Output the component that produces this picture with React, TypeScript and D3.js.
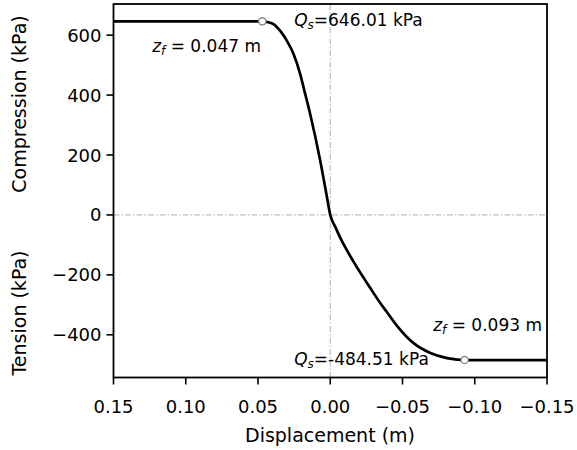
import React from "react";
import * as d3 from "d3";

const plateauComp = 646.01;
const plateauTens = -484.51;
const zfComp = 0.047;
const zfTens = -0.093;

const dispValues = [0.15, 0.047, 0.043, 0.0393, 0.0346, 0.03, 0.0254, 0.0208, 0.0173, 0.0139, 0.0069, 0.0023, 0,
  -0.0035, -0.0069, -0.0161, -0.0277, -0.0346, -0.0393, -0.0462, -0.0577, -0.0693, -0.0808, -0.0877, -0.093, -0.15];
const forceValues = [646.01, 646.01, 643, 637, 614, 581, 537, 470, 403, 337, 180, 60, 0,
  -40, -76, -156, -244, -294, -325, -370, -428, -461, -478, -483, -484.51, -484.51];

const xTicks = [0.15, 0.1, 0.05, 0, -0.05, -0.1, -0.15];
const yTicks = [600, 400, 200, 0, -200, -400];

const W = 577, H = 450;
const L = 113.5, R = 547, T = 4, B = 377.5;
const FONT = "DejaVu Sans, sans-serif";

const fmtX = (v: number) => (v < 0 ? "\u2212" : "") + Math.abs(v).toFixed(2);
const fmtY = (v: number) => (v < 0 ? "\u2212" : "") + Math.abs(v).toFixed(0);

export default function App() {
  const x = d3.scaleLinear().domain([0.15, -0.15]).range([L, R]);
  const y = d3.scaleLinear().domain([-542.6, 704]).range([B, T]);
  const pts: [number, number][] = dispValues.map((d, i) => [d, forceValues[i]]);
  const line = d3.line<[number, number]>()
    .x((d) => x(d[0]))
    .y((d) => y(d[1]))
    .curve(d3.curveMonotoneX);

  const grid = "#a8a8a8";
  return (
    <svg width={W} height={H} style={{ position: "absolute", left: 0, top: 0, background: "#fff" }} fontFamily={FONT}>
      <rect x={0} y={0} width={W} height={H} fill="#fff" />
      {/* reference lines */}
      <line x1={x(0)} x2={x(0)} y1={T} y2={B} stroke={grid} strokeWidth={0.9} strokeDasharray="6,2,1.5,2" />
      <line x1={L} x2={R} y1={y(0)} y2={y(0)} stroke={grid} strokeWidth={0.9} strokeDasharray="6,2,1.5,2" />
      {/* curve */}
      <path d={line(pts) || ""} fill="none" stroke="#000" strokeWidth={2.7} strokeLinejoin="round" />
      {/* markers */}
      <circle cx={x(zfComp)} cy={y(plateauComp)} r={3.6} fill="#fff" stroke="#8a8a8a" strokeWidth={1.3} />
      <circle cx={x(zfTens)} cy={y(plateauTens)} r={3.6} fill="#fff" stroke="#8a8a8a" strokeWidth={1.3} />
      {/* annotations */}
      <text x={x(0.025)} y={y(plateauComp) + 5} fontSize={17} fill="#000">
        <tspan fontStyle="italic">Q</tspan>
        <tspan fontStyle="italic" fontSize={12} dy={3}>s</tspan>
        <tspan dy={-3}>=646.01 kPa</tspan>
      </text>
      <text x={x(0.025)} y={y(plateauTens) + 5} fontSize={17} fill="#000">
        <tspan fontStyle="italic">Q</tspan>
        <tspan fontStyle="italic" fontSize={12} dy={3}>s</tspan>
        <tspan dy={-3}>=-484.51 kPa</tspan>
      </text>
      <text x={261} y={52} fontSize={17} fill="#000" textAnchor="end">
        <tspan fontStyle="italic">z</tspan>
        <tspan fontStyle="italic" fontSize={12} dy={3}>f</tspan>
        <tspan dy={-3}> = 0.047 m</tspan>
      </text>
      <text x={542} y={331} fontSize={17} fill="#000" textAnchor="end">
        <tspan fontStyle="italic">z</tspan>
        <tspan fontStyle="italic" fontSize={12} dy={3}>f</tspan>
        <tspan dy={-3}> = 0.093 m</tspan>
      </text>
      {/* x ticks */}
      {xTicks.map((t) => (
        <g key={"x" + t}>
          <line x1={x(t)} x2={x(t)} y1={B} y2={B + 7} stroke="#000" strokeWidth={1.6} />
          <text x={x(t)} y={413} fontSize={18} textAnchor="middle" fill="#000">{fmtX(t)}</text>
        </g>
      ))}
      {/* y ticks */}
      {yTicks.map((t) => (
        <g key={"y" + t}>
          <line x1={L - 7} x2={L} y1={y(t)} y2={y(t)} stroke="#000" strokeWidth={1.6} />
          <text x={L - 12} y={y(t) + 6.5} fontSize={18} textAnchor="end" fill="#000">{fmtY(t)}</text>
        </g>
      ))}
      {/* spines */}
      <rect x={L} y={T} width={R - L} height={B - T} fill="none" stroke="#000" strokeWidth={1.8} />
      {/* labels */}
      <text x={330} y={442} fontSize={19} textAnchor="middle" fill="#000">Displacement (m)</text>
      <text transform={`translate(26,104) rotate(-90)`} fontSize={19} textAnchor="middle" fill="#000">Compression (kPa)</text>
      <text transform={`translate(26,313) rotate(-90)`} fontSize={19} textAnchor="middle" fill="#000">Tension (kPa)</text>
    </svg>
  );
}
